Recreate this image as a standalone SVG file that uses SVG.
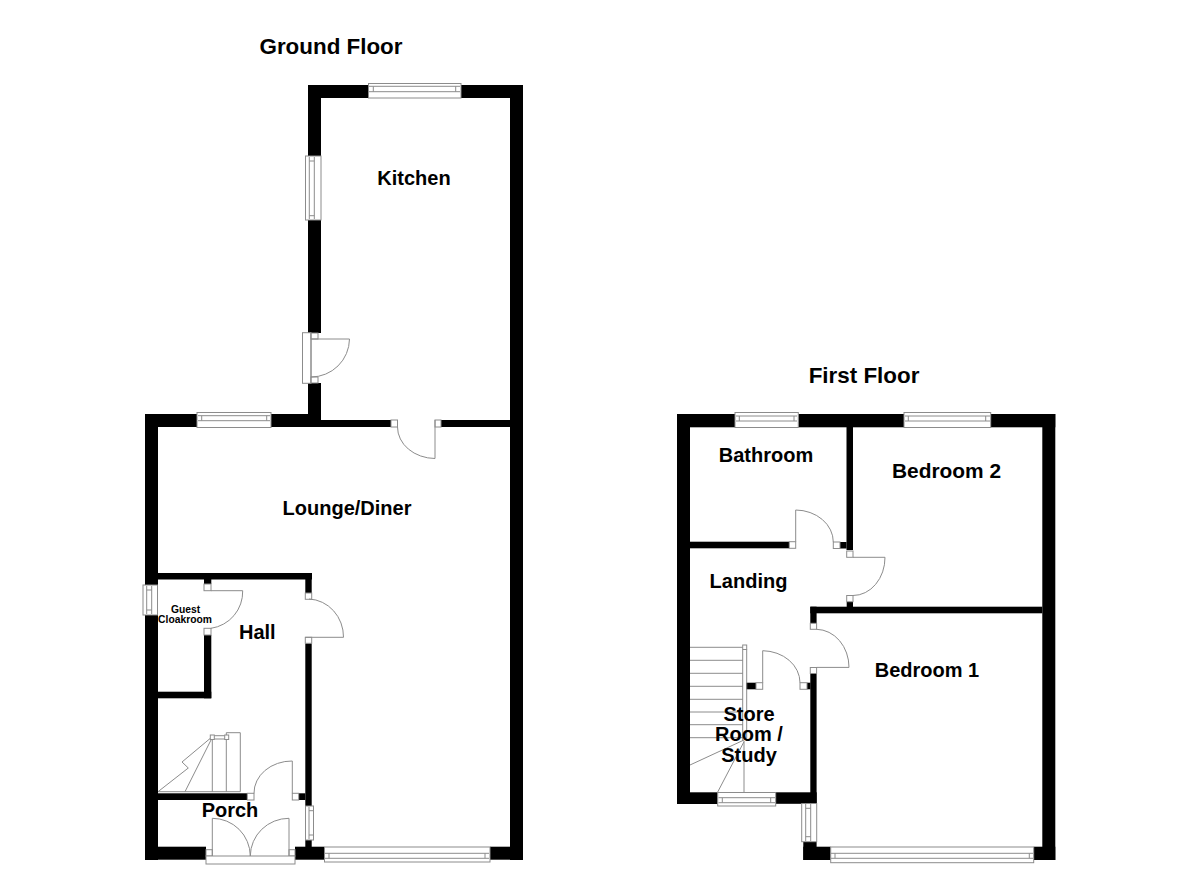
<svg xmlns="http://www.w3.org/2000/svg" width="1200" height="873" viewBox="0 0 1200 873">
<style>
.w{fill:#000}
.g{fill:#fff;stroke:#8c8c8c;stroke-width:1}
.l{fill:none;stroke:#8c8c8c;stroke-width:1}
text{font-family:"Liberation Sans",Arial,sans-serif;font-weight:700;fill:#000;text-anchor:middle}
.t{font-size:22.4px}
.r{font-size:20px}
.s{font-size:10.3px}
</style>
<rect width="1200" height="873" fill="#fff"/>
<g id="ground-floor-walls" class="w">
<rect x="308" y="85" width="60" height="13"/>
<rect x="461" y="85" width="62" height="13"/>
<rect x="308" y="85" width="13" height="71"/>
<rect x="308" y="220" width="13" height="113"/>
<rect x="308" y="383" width="13" height="44"/>
<rect x="510" y="85" width="13" height="775"/>
<rect x="321" y="420" width="70" height="7"/>
<rect x="441" y="420" width="69" height="7"/>
<rect x="145" y="414" width="52" height="13"/>
<rect x="271" y="414" width="37" height="13"/>
<rect x="145" y="414" width="13" height="171"/>
<rect x="145" y="615" width="13" height="245"/>
<rect x="158" y="573" width="154" height="6.5"/>
<rect x="305.3" y="573" width="6.4" height="20"/>
<rect x="305.3" y="643.3" width="6.4" height="162.7"/>
<rect x="305.3" y="840" width="6.4" height="8"/>
<rect x="204" y="579" width="7.3" height="5"/>
<rect x="204" y="635" width="7.3" height="63.3"/>
<rect x="158" y="691.7" width="53.3" height="6.6"/>
<rect x="158" y="793.3" width="89.3" height="6.7"/>
<rect x="298.7" y="793.3" width="6.6" height="6.7"/>
<rect x="145" y="846.7" width="61" height="13"/>
<rect x="295" y="846.7" width="29.3" height="13"/>
<rect x="490" y="846.7" width="33" height="13"/>
</g>
<g id="first-floor-walls" class="w">
<rect x="677" y="414" width="58" height="13.3"/>
<rect x="798.3" y="414" width="105.7" height="13.3"/>
<rect x="990.7" y="414" width="64.6" height="13.3"/>
<rect x="677" y="414" width="13" height="390"/>
<rect x="1042.3" y="414" width="13" height="446"/>
<rect x="846.5" y="427" width="6.5" height="123"/>
<rect x="690" y="541.7" width="99.3" height="6.6"/>
<rect x="840" y="542" width="6.5" height="6.5"/>
<rect x="846.7" y="601.7" width="6.3" height="5.5"/>
<rect x="810.3" y="606.7" width="232" height="6.6"/>
<rect x="810.3" y="606.7" width="6.3" height="16.6"/>
<rect x="810.3" y="673.5" width="6.3" height="130"/>
<rect x="807" y="682.7" width="3.5" height="6.6"/>
<rect x="746" y="682.7" width="10" height="6.6"/>
<rect x="677" y="792.3" width="40.7" height="11.7"/>
<rect x="775.7" y="792.3" width="41" height="11.5"/>
<rect x="803.3" y="841.7" width="13.3" height="18.3"/>
<rect x="803.3" y="846.7" width="27.4" height="13.3"/>
<rect x="1033.7" y="846.7" width="21.6" height="13.3"/>
</g>
<g id="windows">
<rect class="g" x="368.5" y="83.5" width="92.5" height="14.5"/><path class="l" d="M369 86.3H460M369 91.7H460M373.3 86.3V91.7M455.7 86.3V91.7"/>
<rect class="g" x="305.5" y="156" width="15.5" height="64"/><path class="l" d="M309.3 157V219M314.3 157V219M309.3 161H314.3M309.3 215.7H314.3"/>
<rect class="g" x="302.5" y="332.7" width="8.5" height="50.6"/>
<rect class="g" x="197" y="412.5" width="74" height="15"/><path class="l" d="M198 415.7H270M198 420.7H270M201.7 415.7V420.7M266.7 415.7V420.7"/>
<rect class="g" x="143" y="585" width="14.5" height="30"/><path class="l" d="M146.7 586V614M151.7 586V614M146.7 590H151.7M146.7 610H151.7"/>
<rect class="g" x="305.5" y="806" width="8" height="34"/><path class="l" d="M309 807V839M309 810.7H313M309 835H313"/>
<rect class="g" x="324.5" y="847" width="165.5" height="15"/><path class="l" d="M325 853.3H489M325 858.3H489M329 853.3V858.3M485 853.3V858.3"/>
<rect class="g" x="735" y="412.5" width="63.3" height="15"/><path class="l" d="M736 416H797M736 421H797M739.3 416V421M794 416V421"/>
<rect class="g" x="904" y="412.5" width="86.7" height="15"/><path class="l" d="M905 416H990M905 421H990M908.3 416V421M985.7 416V421"/>
<rect class="g" x="717.7" y="792.5" width="58" height="13.5"/><path class="l" d="M718.5 797.7H775M718.5 802.7H775M722.3 797.7V802.7M770.7 797.7V802.7"/>
<rect class="g" x="801.7" y="803.5" width="15" height="38.2"/><path class="l" d="M805.7 804V841M810.7 804V841M805.7 808.3H810.7M805.7 836.7H810.7"/>
<rect class="g" x="830.7" y="847" width="203" height="15.7"/><path class="l" d="M831 853.3H1033M831 858.3H1033M835 853.3V858.3M1029.3 853.3V858.3"/>
</g>
<g id="doors">
<rect class="g" x="311" y="333" width="7" height="6"/><rect class="g" x="311" y="377" width="7" height="6"/>
<path class="l" d="M311 333V383M311 339H349.5A38.5 38.5 0 0 1 311 377"/>
<rect class="g" x="391" y="420" width="6.5" height="7"/><rect class="g" x="435" y="420" width="6" height="7"/>
<path class="l" d="M397.5 427A38 31.5 0 0 0 435 458.5V420"/>
<rect class="g" x="305.3" y="593" width="6.4" height="6.3"/><rect class="g" x="305.3" y="637.3" width="6.4" height="6"/>
<path class="l" d="M309 599A36 38 0 0 1 343.5 637.3H305.3"/>
<rect class="g" x="204" y="584" width="7" height="6.7"/><rect class="g" x="204" y="628.3" width="7" height="6.7"/>
<path class="l" d="M211 590.7H242.7A37 37 0 0 1 211 628.3"/>
<rect class="g" x="247.3" y="793.3" width="6.7" height="6.7"/><rect class="g" x="292.3" y="793.3" width="6.4" height="6.7"/>
<path class="l" d="M254 793.3A38 32 0 0 1 292.3 761V793.3"/>
<rect class="g" x="206" y="849.7" width="6.3" height="6.3"/><rect class="g" x="289" y="849.7" width="6" height="6.3"/>
<rect class="g" x="206" y="856" width="89" height="8"/>
<path class="l" d="M212.3 856V818.3A38 38 0 0 1 250.3 856M289 856V818.3A38.7 38 0 0 0 250.3 856"/>
<rect class="g" x="789.3" y="541.7" width="6.4" height="6.6"/><rect class="g" x="833.3" y="542" width="6.7" height="6.5"/>
<path class="l" d="M795.7 541.7V510A38 32 0 0 1 833.3 542"/>
<rect class="g" x="846.7" y="551" width="6.3" height="6.3"/><rect class="g" x="846.7" y="595.5" width="6.3" height="6.2"/>
<path class="l" d="M853 557.3H885A32 38 0 0 1 853 595.5"/>
<rect class="g" x="810.3" y="623.3" width="6.3" height="6"/><rect class="g" x="810.3" y="667.5" width="6.3" height="6"/>
<path class="l" d="M816.6 629.3A33 38 0 0 1 849 667.4H816.6"/>
<rect class="g" x="756" y="682.7" width="6.7" height="6.6"/><rect class="g" x="800" y="682.7" width="7" height="6.6"/>
<path class="l" d="M762.7 682.7V650.7A38 32 0 0 1 800 682.7"/>
</g>
<g id="stairs">
<path class="l" d="M226.3 791.7V732.7H240.3V791.7M158 791.7H240.3M212.3 738V791.7M212 738L185 791.7M210.7 738L182 762L188.3 768L158 791.7M214 735.7H225M214 739H225"/>
<rect class="g" x="210.3" y="735" width="4" height="4.5"/><rect class="g" x="224.7" y="735" width="4" height="4.5"/>
<path class="l" d="M690 647.3H743M690 660.3H743M690 673.3H743M690 686.3H743M690 699.3H743M690 712H743M690 724.7H743M690 737.7H743M690 765L744 740M717.7 792L744 741.7M744 741V792.3M742.7 649.5V741M746.7 649.5V741"/>
<rect class="g" x="742.7" y="645" width="4" height="4.5"/>
</g>
<g id="labels">
<text class="t" x="331" y="54">Ground Floor</text>
<text class="t" x="864" y="383">First Floor</text>
<text class="r" x="414" y="185">Kitchen</text>
<text class="r" x="347" y="515">Lounge/Diner</text>
<text class="r" x="257.3" y="639">Hall</text>
<text class="r" x="230" y="817">Porch</text>
<text class="s" x="185.5" y="613">Guest</text>
<text class="s" x="185" y="623">Cloakroom</text>
<text class="r" x="766" y="462">Bathroom</text>
<text class="r" x="946.5" y="478" style="font-size:20.9px">Bedroom 2</text>
<text class="r" x="748.5" y="588">Landing</text>
<text class="r" x="927" y="677">Bedroom 1</text>
<text class="r" x="749" y="720.5">Store</text>
<text class="r" x="749" y="741">Room /</text>
<text class="r" x="749" y="761.5">Study</text>
</g>
</svg>
